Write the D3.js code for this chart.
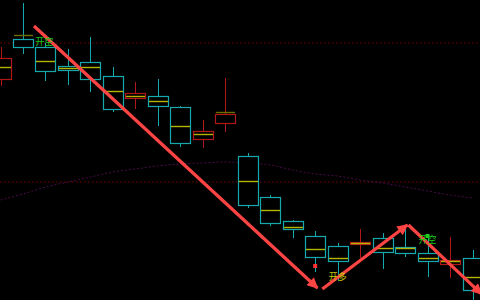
<!DOCTYPE html>
<html>
<head>
<meta charset="utf-8">
<script src="https://cdn.jsdelivr.net/npm/d3@7"></script>
<style>
  html, body { margin: 0; padding: 0; background: #000; }
  svg { display: block; }
</style>
</head>
<body>
<svg id="chart" width="480" height="300"></svg>
<script>
// candle values (price units), index 0 is partly off the left edge
var opens  = [3221, 3261, 3253, 3234, 3238, 3224, 3202, 3204, 3193, 3161, 3177, 3144, 3103, 3079, 3064, 3054, 3056, 3062, 3053, 3047, 3036, 3042];
var highs  = [3253, 3297, 3257, 3251, 3263, 3233, 3218, 3221, 3194, 3180, 3222, 3147, 3105, 3080, 3069, 3057, 3071, 3067, 3075, 3063, 3063, 3050];
var lows   = [3214, 3246, 3219, 3215, 3208, 3188, 3191, 3174, 3153, 3152, 3168, 3092, 3074, 3062, 3028, 3019, 3042, 3031, 3043, 3023, 3022, 2995];
var closes = [3242, 3253, 3229, 3230, 3221, 3191, 3207, 3194, 3157, 3169, 3186, 3095, 3077, 3071, 3043, 3039, 3058, 3048, 3047, 3039, 3040, 3010];
var mids   = [3233, 3265, 3239, 3232, 3233, 3209, 3204, 3199, 3174, 3166, 3188, 3119, 3090, 3073, 3051, 3042, 3057, 3052, 3052, 3042, 3039, 3023];
var longMa = [3100, 3106, 3113, 3118, 3123, 3128, 3131, 3134, 3136, 3137, 3138, 3137, 3135, 3130, 3126, 3124, 3120, 3117, 3113, 3109, 3105, 3102];

// dotted price levels
var levels = [3257, 3118];

// trend arrows: [index, price] start and end
var arrows = [
  [[1.49, 3274], [14.1, 3012]],
  [[14.32, 3011], [18.1, 3075]],
  [[18.15, 3075], [21.4, 3006]]
];

// trade signals
var signals = [
  {i: 1.95, price: 3258, text: "开空", color: "#18c818"},
  {i: 15.0, price: 3023, text: "开多", color: "#c8c800"},
  {i: 19.0, price: 3060, text: "开空", color: "#18c818"}
];
var dots = [
  {i: 14.0, price: 3034, color: "#ff3030"},
  {i: 19.0, price: 3064, color: "#20d020"}
];

var width = 480, height = 300;
var svg = d3.select("#chart");

var x = d3.scaleLinear().domain([0, 21]).range([0.5, 472.5]);
var y = d3.scaleLinear().domain([3300, 3000]).range([0, height]);
var boxW = 20;

svg.append("rect").attr("width", width).attr("height", height).attr("fill", "#000");

// defs for arrowhead
svg.append("defs").append("marker")
    .attr("id", "head")
    .attr("viewBox", "0 0 10 10")
    .attr("refX", 9).attr("refY", 5)
    .attr("markerWidth", 4.2).attr("markerHeight", 3.4)
    .attr("orient", "auto")
    .append("path")
    .attr("d", "M0,0 L10,5 L0,10 Z")
    .attr("fill", "#ff4444");

svg.selectAll("line.level")
    .data(levels)
    .enter().append("line")
    .attr("class", "level")
    .attr("x1", 0).attr("x2", width)
    .attr("y1", function(d) { return y(d); })
    .attr("y2", function(d) { return y(d); })
    .attr("stroke", "#7a0000")
    .attr("stroke-width", 1)
    .attr("stroke-dasharray", "1.5,2.5");

var maLine = d3.line()
    .x(function(d, i) { return x(i); })
    .y(function(d) { return y(d); })
    .curve(d3.curveMonotoneX);

svg.append("path")
    .attr("d", maLine(longMa))
    .attr("fill", "none")
    .attr("stroke", "#4a0c4a")
    .attr("stroke-width", 1)
    .attr("stroke-dasharray", "2,2");

var idx = d3.range(opens.length);
var candles = svg.selectAll("g.candle")
    .data(idx)
    .enter().append("g")
    .attr("class", "candle");

function col(i) { return closes[i] >= opens[i] ? "#b01818" : "#17a8ae"; }

candles.append("line")
    .attr("x1", function(i) { return Math.round(x(i)) + 0.5; })
    .attr("x2", function(i) { return Math.round(x(i)) + 0.5; })
    .attr("y1", function(i) { return y(highs[i]); })
    .attr("y2", function(i) { return y(Math.max(opens[i], closes[i])); })
    .attr("stroke", col);

candles.append("line")
    .attr("x1", function(i) { return Math.round(x(i)) + 0.5; })
    .attr("x2", function(i) { return Math.round(x(i)) + 0.5; })
    .attr("y1", function(i) { return y(Math.min(opens[i], closes[i])); })
    .attr("y2", function(i) { return y(lows[i]); })
    .attr("stroke", col);

candles.append("rect")
    .attr("x", function(i) { return Math.round(x(i) - boxW / 2) + 0.5; })
    .attr("y", function(i) { return Math.round(y(Math.max(opens[i], closes[i]))) + 0.5; })
    .attr("width", boxW)
    .attr("height", function(i) { return Math.max(1, Math.round(Math.abs(y(opens[i]) - y(closes[i])))); })
    .attr("fill", "#000")
    .attr("stroke", col)
    .attr("stroke-width", 1.2);

candles.append("line")
    .attr("x1", function(i) { return Math.round(x(i) - boxW / 2) + 1; })
    .attr("x2", function(i) { return Math.round(x(i) + boxW / 2); })
    .attr("y1", function(i) { return Math.round(y(mids[i])) + 0.5; })
    .attr("y2", function(i) { return Math.round(y(mids[i])) + 0.5; })
    .attr("stroke", function(i) {
        var inside = mids[i] <= Math.max(opens[i], closes[i]) && mids[i] >= Math.min(opens[i], closes[i]);
        return inside ? "#b4b400" : "#6e6e00";
    })
    .attr("stroke-width", 1.4);

svg.selectAll("line.arrow")
    .data(arrows)
    .enter().append("line")
    .attr("class", "arrow")
    .attr("x1", function(d) { return x(d[0][0]); })
    .attr("y1", function(d) { return y(d[0][1]); })
    .attr("x2", function(d) { return x(d[1][0]); })
    .attr("y2", function(d) { return y(d[1][1]); })
    .attr("stroke", "#ff4444")
    .attr("stroke-width", 3.2)
    .attr("marker-end", "url(#head)");

svg.selectAll("rect.dot")
    .data(dots)
    .enter().append("rect")
    .attr("class", "dot")
    .attr("x", function(d) { return x(d.i) - 2; })
    .attr("y", function(d) { return y(d.price) - 2; })
    .attr("width", 4).attr("height", 4)
    .attr("fill", function(d) { return d.color; });

svg.selectAll("text.signal")
    .data(signals)
    .enter().append("text")
    .attr("class", "signal")
    .attr("x", function(d) { return x(d.i); })
    .attr("y", function(d) { return y(d.price); })
    .attr("dy", "0.35em")
    .attr("text-anchor", "middle")
    .attr("font-family", "'Noto Sans CJK SC', sans-serif")
    .attr("font-size", 9)
    .attr("fill", function(d) { return d.color; })
    .text(function(d) { return d.text; });
</script>
</body>
</html>
